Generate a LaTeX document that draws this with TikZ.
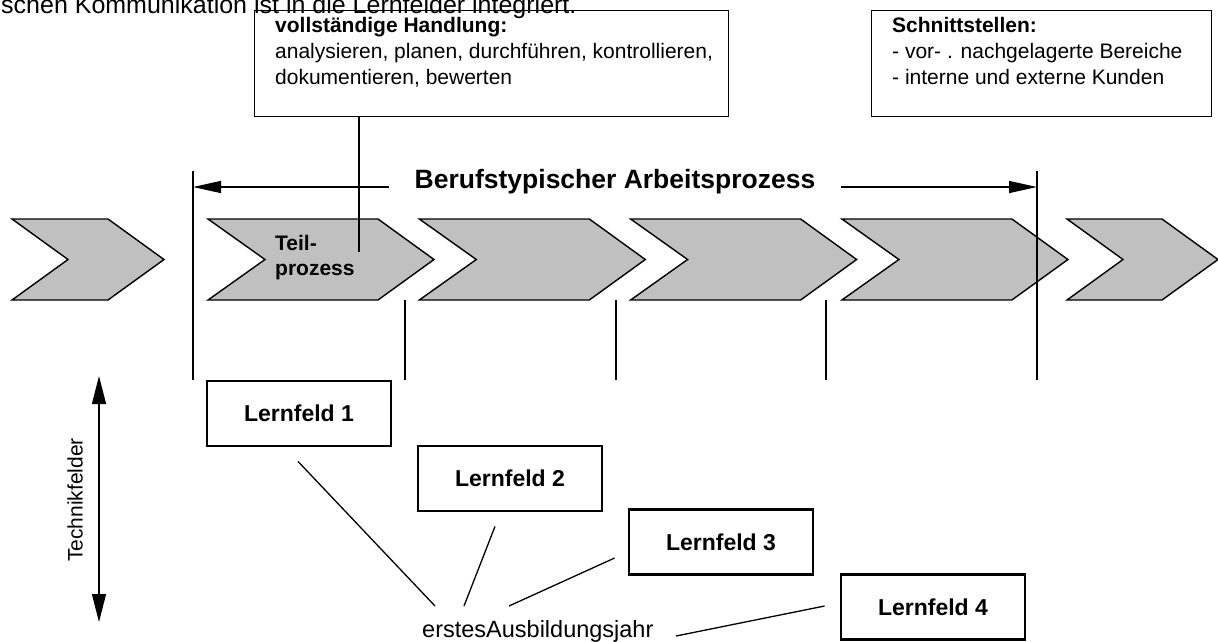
\documentclass[tikz,border=0pt]{standalone}
\usepackage{fontspec}
\setmainfont{Liberation Sans}
\usetikzlibrary{arrows.meta,calc}
\definecolor{chevgray}{HTML}{C0C0C0}
\begin{document}
\begin{tikzpicture}[x=1pt,y=-1pt,
  chev/.style={draw=black, fill=chevgray, line width=1.4pt, line join=miter},
  thinbox/.style={draw=black, line width=1.3pt, inner sep=0pt, anchor=north west},
  boxtext/.style={anchor=north west, align=left, inner sep=0pt, font=\fontsize{21}{26}\selectfont},
  lf/.style={draw=black, line width=2.8pt, minimum width=184pt, minimum height=65pt, inner sep=0pt, font=\fontsize{23}{27}\selectfont\bfseries},
  conn/.style={draw=black, line width=1.3pt},
  bigtip/.style={-{Triangle[length=28pt,width=12pt]}},
  dbltip/.style={{Triangle[length=28pt,width=14pt]}-{Triangle[length=28pt,width=14pt]}}
]
\useasboundingbox (0,0) rectangle (1218,641);

% top text (cut at the top)
\node[anchor=base west, inner sep=0pt, font=\fontsize{25}{29}\selectfont] (toptext) at (1,13) {schen Kommunikation ist in die Lernfelder integriert.};

% box: vollständige Handlung
\node[thinbox, minimum width=474pt, minimum height=106pt] (hbox) at (254,10) {};
\node[boxtext] (htext) at (275,17) {\textbf{vollständige Handlung:}\\analysieren, planen, durchführen, kontrollieren,\\dokumentieren, bewerten};

% box: Schnittstellen
\node[thinbox, minimum width=340pt, minimum height=106pt] (sbox) at (871,10) {};
\node[boxtext] (stext) at (892,17) {\textbf{Schnittstellen:}\\- vor- . nachgelagerte Bereiche\\- interne und externe Kunden};

% title and arrows
\node[font=\fontsize{26.5}{30}\selectfont\bfseries, inner sep=0pt] (title) at (615,182) {Berufstypischer Arbeitsprozess};
\coordinate (vlA) at (193,171);
\coordinate (vlAb) at (193,380);
\coordinate (vlB) at (1037,171);
\coordinate (vlBb) at (1037,380);
\draw[conn] (vlA) -- (vlAb);
\coordinate (arrL) at (389,187);
\coordinate (arrR) at (841,187);
\draw[conn, bigtip] (arrL) -- (arrL -| vlA);
\draw[conn, bigtip] (arrR) -- (arrR -| vlB);

% chevrons
\draw[chev] (12,219) -- (108,219) -- (164,259.5) -- (108,300) -- (12,300) -- (68,259.5) -- cycle;
\foreach \x in {208,419.3,630.6,841.9}{
  \draw[chev] (\x,219) -- ({\x+170},219) -- ({\x+226},259.5) -- ({\x+170},300) -- (\x,300) -- ({\x+57},259.5) -- cycle;
}
\draw[chev] (1067,219) -- (1162,219) -- (1218,259.5) -- (1162,300) -- (1067,300) -- (1123,259.5) -- cycle;
\draw[conn] (vlB) -- (vlBb);

\node[anchor=base west, align=left, inner sep=0pt, font=\fontsize{21}{25}\selectfont\bfseries] (teil) at (275,275) {Teil-\\prozess};

% line from box to Teilprozess
\coordinate (tpend) at (359,252);
\draw[conn] (hbox.south -| tpend) -- (tpend);

% short separators
\foreach \x in {405,616,826}{
  \draw[conn] (\x,300) -- (\x,380);
}

% Technikfelder
\coordinate (tftop) at (99,376);
\coordinate (tfbot) at (99,622);
\draw[conn, dbltip] (tftop) -- (tfbot);
\node[rotate=90, inner sep=0pt, font=\fontsize{21}{25}\selectfont] (tf) at (75,500) {Technikfelder};

% Lernfelder
\node[lf] (lf1) at (299,413.5) {Lernfeld 1};
\node[lf] (lf2) at (510,478.5) {Lernfeld 2};
\node[lf] (lf3) at (721,542) {Lernfeld 3};
\node[lf] (lf4) at (933,607) {Lernfeld 4};

\node[anchor=base west, inner sep=0pt, font=\fontsize{23.5}{27}\selectfont] (jahr) at (422,637) {erstesAusbildungsjahr};

\draw[conn] ($(lf1.south)+(-1,14)$) -- ($(jahr.base west)+(13,-31)$);
\draw[conn] ($(lf2.south)+(-15,14)$) -- ($(jahr.base west)+(42,-31)$);
\draw[conn] ($(lf3.west)+(-13,16)$) -- ($(jahr.base west)+(87,-31)$);
\draw[conn] ($(lf4.west)+(-15,-1)$) -- ($(jahr.base west)+(254,-1)$);
\end{tikzpicture}
\end{document}
